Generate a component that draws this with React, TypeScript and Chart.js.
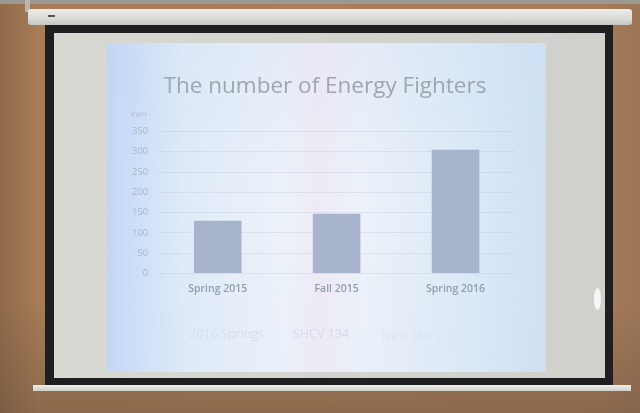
import React, { useEffect, useRef } from "react";
import { Chart, registerables } from "chart.js";

Chart.register(...registerables);

const categories = ["Spring 2015", "Fall 2015", "Spring 2016"];
const fighters = [130, 147, 305];
const yTicks = [0, 50, 100, 150, 200, 250, 300, 350];
const titleText = "The number of Energy Fighters";
const unitText = "KWH";
const footnotes = ["2016 Springs", "SHCV 134", "New SHCV 171"];

export default function App() {
  const ref = useRef<HTMLCanvasElement | null>(null);

  useEffect(() => {
    document.body.style.margin = "0";
    const ctx = ref.current!;
    const chart = new Chart(ctx, {
      type: "bar",
      data: {
        labels: categories,
        datasets: [
          {
            data: fighters,
            backgroundColor: "#a8b4cc",
            borderWidth: 0,
            barPercentage: 1,
            categoryPercentage: 0.4,
          },
        ],
      },
      options: {
        animation: false,
        responsive: false,
        maintainAspectRatio: false,
        layout: { padding: { left: 122, right: 125, top: 131.5, bottom: 109 } },
        plugins: {
          legend: { display: false },
          tooltip: { enabled: false },
          title: { display: false },
        },
        scales: {
          x: {
            grid: { display: false, drawTicks: false },
            border: { display: false },
            ticks: {
              color: "#919cad",
              font: { family: "'Open Sans', sans-serif", size: 10.5, weight: 600 },
              padding: 9,
            },
          },
          y: {
            min: 0,
            max: 350,
            afterBuildTicks: (scale: any) => {
              scale.ticks = yTicks.map((v) => ({ value: v }));
            },
            grid: { color: "rgba(180,192,208,0.28)", drawTicks: false, lineWidth: 1 },
            border: { display: false },
            ticks: {
              color: "#a9b7c9",
              font: { family: "'Open Sans', sans-serif", size: 9.5 },
              padding: 10,
            },
          },
        },
      },
    });
    return () => chart.destroy();
  }, []);

  const abs = (s: React.CSSProperties): React.CSSProperties => ({ position: "absolute", ...s });

  return (
    <div
      style={{
        position: "fixed",
        left: 0,
        top: 0,
        width: 640,
        height: 413,
        overflow: "hidden",
        background: "linear-gradient(90deg, #8f6a4b 0%, #a77c56 6%, #aa7e58 50%, #a67b58 94%, #9c7658 100%)",
      }}
    >
      <div style={abs({ left: 0, top: 300, width: 640, height: 113, background: "linear-gradient(180deg, rgba(90,70,55,0) 0%, rgba(90,70,55,0.35) 100%)" })} />
      <div style={abs({ left: 0, top: 0, width: 640, height: 4, background: "#9c9893" })} />
      <div style={abs({ left: 25, top: 0, width: 5, height: 12, background: "#b9b6b1" })} />
      <div style={abs({ left: 28, top: 9, width: 604, height: 16, borderRadius: 3, background: "linear-gradient(180deg, #ecece8 0%, #dadad6 60%, #c5c5c1 100%)" })} />
      <div style={abs({ left: 48, top: 15, width: 7, height: 2, background: "#555" })} />
      <div style={abs({ left: 45, top: 25, width: 568, height: 361, background: "#1f1e21" })} />
      <div style={abs({ left: 54, top: 33, width: 551, height: 345, background: "linear-gradient(90deg, #d9d9d3 0%, #d4d4cf 50%, #d0d0cc 100%)" })} />
      <div style={abs({ left: 33, top: 385, width: 598, height: 6, background: "linear-gradient(180deg, #f0f0ec, #cfcfcb)" })} />
      <div style={abs({ left: 594, top: 288, width: 7, height: 22, borderRadius: "50%", background: "rgba(250,250,250,0.9)" })} />
      <div
        style={abs({
          left: 107,
          top: 43,
          width: 439,
          height: 329,
          background:
            "linear-gradient(90deg, rgba(190,212,245,0.9) 0%, rgba(215,230,248,0.6) 18%, rgba(240,240,250,0) 40%, rgba(240,228,242,0.55) 48%, rgba(240,240,250,0) 58%, rgba(205,225,245,0.6) 85%, rgba(200,220,242,0.8) 100%), linear-gradient(180deg, #e4ecf7 0%, #edf2fa 50%, #eaf0f9 100%)",
        })}
      />
      <canvas ref={ref} width={640} height={413} style={abs({ left: 0, top: 0, width: 640, height: 413 })} />
      <div style={abs({ left: 125, top: 69, width: 400, textAlign: "center", fontFamily: "'Open Sans', sans-serif", fontSize: 22.5, color: "#9da7b0", whiteSpace: "nowrap" })}>{titleText}</div>
      <div style={abs({ left: 131, top: 110, fontFamily: "'Open Sans', sans-serif", fontSize: 7, color: "#aebbd0" })}>{unitText}</div>
      <div style={abs({ left: 189, top: 325, fontFamily: "'Open Sans', sans-serif", fontSize: 12.5, color: "#d6dee9" })}>{footnotes[0]}</div>
      <div style={abs({ left: 293, top: 325, fontFamily: "'Open Sans', sans-serif", fontSize: 12.5, color: "#d3dcea" })}>{footnotes[1]}</div>
      <div style={abs({ left: 382, top: 327, fontFamily: "'Open Sans', sans-serif", fontSize: 12.5, color: "#dbe4ef" })}>{footnotes[2]}</div>
    </div>
  );
}
